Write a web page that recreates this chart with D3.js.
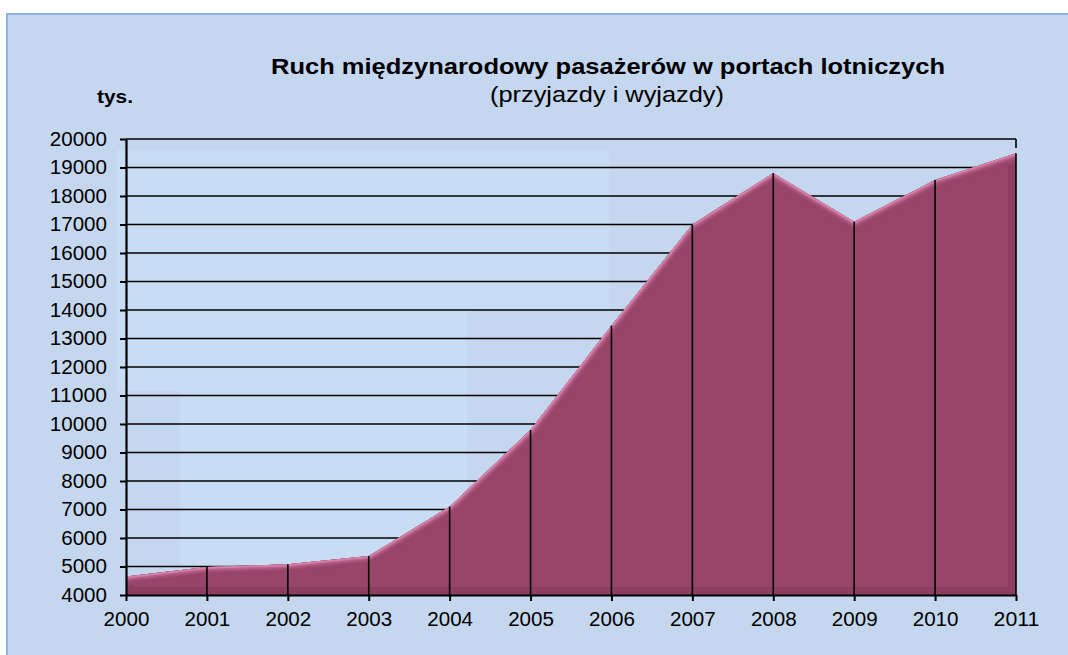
<!DOCTYPE html>
<html><head><meta charset="utf-8">
<script src="https://cdn.jsdelivr.net/npm/d3@7"></script>
<style>
html,body{margin:0;padding:0;background:#fff;}
svg{display:block;font-family:Arial,"Liberation Sans",sans-serif;}
</style></head>
<body>
<svg id="c" width="1068" height="655"></svg>
<script>
const years = [2000,2001,2002,2003,2004,2005,2006,2007,2008,2009,2010,2011];
const passengers = [4650,4980,5080,5370,7100,9790,13450,17000,18800,17100,18560,19500];
const yTicks = [4000,5000,6000,7000,8000,9000,10000,11000,12000,13000,14000,15000,16000,17000,18000,19000,20000];
const titleText = "Ruch międzynarodowy pasażerów w portach lotniczych";
const subtitleText = "(przyjazdy i wyjazdy)";
const unitText = "tys.";

const svg = d3.select("#c");
const x = d3.scaleLinear().domain([2000,2011]).range([126,1016]);
const y = d3.scaleLinear().domain([4000,20000]).range([595,139]);

// background
svg.append("rect").attr("x",7).attr("y",14).attr("width",1100).attr("height",700)
  .attr("fill","#c4d7ee").attr("stroke","#8db3e2").attr("stroke-width",2);
// faint lighter panels (3D backdrop)
const panels = [[117,150,63,241],[180,150,287,445],[467,150,143,161]];
svg.selectAll("rect.pn").data(panels).join("rect").attr("class","pn")
  .attr("x",d=>d[0]).attr("y",d=>d[1]).attr("width",d=>d[2]).attr("height",d=>d[3])
  .attr("fill","#c8ddf3");

// gridlines
svg.append("g").selectAll("line").data(yTicks.slice(1)).join("line")
  .attr("x1",x(2000)).attr("x2",x(2011)).attr("y1",d=>y(d)).attr("y2",d=>y(d))
  .attr("stroke","#000").attr("stroke-width",1.6);
svg.append("line").attr("x1",x(2011)).attr("x2",x(2011)).attr("y1",y(20000)).attr("y2",y(20000)+9)
  .attr("stroke","#000").attr("stroke-width",1.6);

const data = years.map((yr,i)=>({yr, v:passengers[i]}));
const area = d3.area().x(d=>x(d.yr)).y0(y(4000)).y1(d=>y(d.v));
const line = d3.line().x(d=>x(d.yr)).y(d=>y(d.v));

const defs = svg.append("defs");
defs.append("clipPath").attr("id","ac").append("path").attr("d",area(data));

svg.append("path").attr("d",area(data)).attr("fill","#98456a");
const cg = svg.append("g").attr("clip-path","url(#ac)");
cg.append("path").attr("d",area(data)).attr("fill","none").attr("stroke","#7f3555").attr("stroke-width",16).attr("opacity",0.45);
cg.append("path").attr("d",line(data)).attr("fill","none").attr("stroke","#98456a").attr("stroke-width",18);
cg.append("path").attr("d",line(data)).attr("fill","none").attr("stroke","#a44f76").attr("stroke-width",11);
cg.append("path").attr("d",line(data)).attr("fill","none").attr("stroke","#ba628b").attr("stroke-width",7);
cg.append("path").attr("d",line(data)).attr("fill","none").attr("stroke","#d584a9").attr("stroke-width",3.5);

// drop lines
svg.append("g").selectAll("line").data(data.slice(1)).join("line")
  .attr("x1",d=>x(d.yr)).attr("x2",d=>x(d.yr)).attr("y1",d=>y(d.v)).attr("y2",y(4000))
  .attr("stroke","#000").attr("stroke-width",1.6);

// axes
const ya = svg.append("g").attr("transform",`translate(${x(2000)},0)`)
  .call(d3.axisLeft(y).tickValues(yTicks).tickFormat(d=>String(d)).tickSize(6).tickSizeOuter(0).tickPadding(13));
const xa = svg.append("g").attr("transform",`translate(0,${y(4000)})`)
  .call(d3.axisBottom(x).tickValues(years).tickFormat(d=>String(d)).tickSize(6).tickSizeOuter(0));
[ya,xa].forEach(g=>{
  g.select(".domain").attr("stroke","#000").attr("stroke-width",2.2);
  g.selectAll(".tick line").attr("stroke","#000").attr("stroke-width",2);
  g.selectAll(".tick text").attr("fill","#000").attr("font-size",19.5)
    .attr("font-family","Arial, 'Liberation Sans', sans-serif")
    .attr("textLength",function(){return this.textContent.length*11.45;})
    .attr("lengthAdjust","spacingAndGlyphs");
});
xa.selectAll(".tick text").attr("y",31).attr("dy",null);

// titles
svg.append("text").attr("x",608).attr("y",74).attr("text-anchor","middle")
  .attr("font-weight","bold").attr("font-size",22.5).attr("fill","#000")
  .attr("textLength",674).attr("lengthAdjust","spacingAndGlyphs").text(titleText);
svg.append("text").attr("x",607).attr("y",102).attr("text-anchor","middle")
  .attr("font-size",22).attr("fill","#000")
  .attr("textLength",234).attr("lengthAdjust","spacingAndGlyphs").text(subtitleText);
svg.append("text").attr("x",97).attr("y",103)
  .attr("font-weight","bold").attr("font-size",18).attr("fill","#000")
  .attr("textLength",36).attr("lengthAdjust","spacingAndGlyphs").text(unitText);
</script>
</body></html>
